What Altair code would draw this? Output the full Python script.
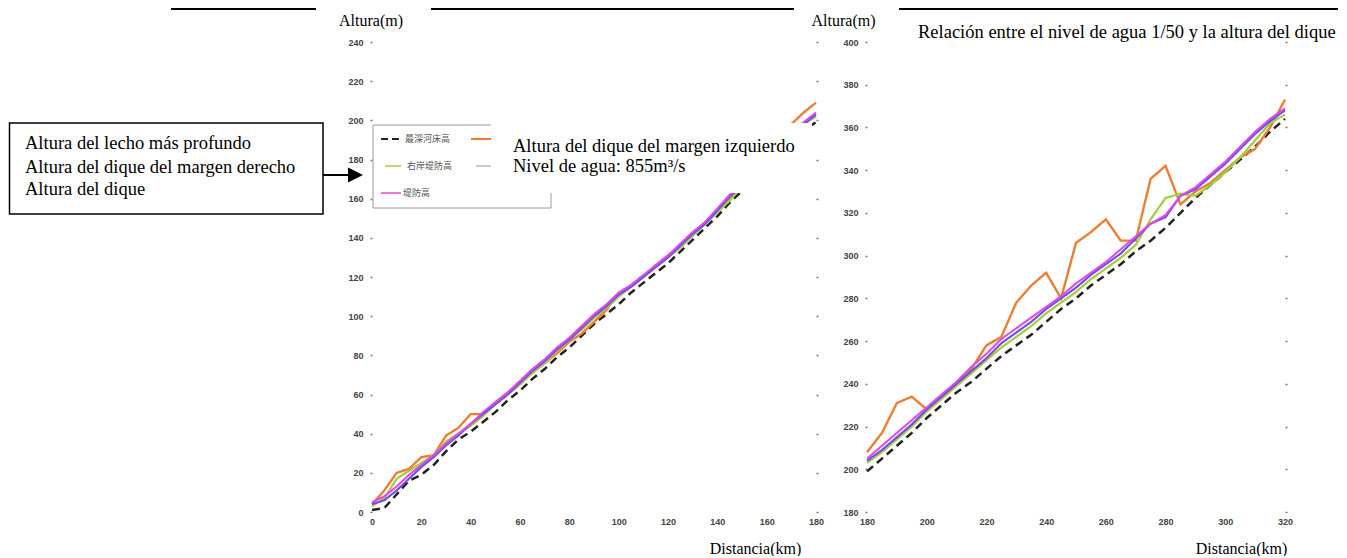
import altair as alt
import pandas as pd

# ---------------- data ----------------
SERIES = [
    "最深河床高",
    "左岸堤防高",
    "右岸堤防高",
    "計画高水位",
    "堤防高",
]
COLORS = ["#222222", "#ED7D31", "#A4CF3A", "#6B4DF0", "#E048E6"]
DASHES = [[8, 5], [1, 0], [1, 0], [1, 0], [1, 0]]
WIDTHS = [2.5, 2, 2, 2, 2]

KM_LEFT = [0, 5, 10, 15, 20, 25, 30, 35, 40, 45, 50, 55, 60, 65, 70, 75, 80, 85,
           90, 95, 100, 105, 110, 115, 120, 125, 130, 135, 140, 145, 150, 155,
           160, 165, 170, 175, 180]
LEFT_LECHO = [1, 2, 9, 16, 19, 24, 31, 37, 41, 46, 51, 57, 62, 68, 73, 79, 84, 90,
              96, 101, 106, 112, 117, 122, 127, 133, 139, 145, 151, 158, 164, 170,
              177, 184, 190, 195, 199]
LEFT_IZQ = [4, 11, 20, 22, 28, 29, 39, 43, 50, 50, 56, 61, 66, 71, 76, 81, 87, 91,
            97, 103, 112, 115, 120, 126, 131, 136, 142, 148, 154, 160, 167, 174,
            181, 189, 198, 204, 209]
LEFT_DER = [3, 7, 17, 21, 25, 29, 36, 40, 44, 49, 55, 60, 65, 71, 76, 82, 88, 93,
            99, 104, 110, 115, 120, 125, 130, 135, 141, 147, 153, 159, 166, 172,
            179, 186, 193, 198, 202]
LEFT_AGUA = [4, 6, 11, 17, 23, 28, 34, 39, 45, 50, 55, 60, 66, 72, 77, 83, 88, 94,
             100, 105, 111, 115, 120, 125, 130, 136, 142, 147, 154, 161, 167, 174,
             180, 186, 193, 198, 203]
LEFT_DIQUE = [5, 8, 13, 19, 24, 29, 35, 40, 45, 51, 56, 61, 67, 73, 78, 84, 89, 95,
              101, 106, 112, 116, 121, 126, 131, 137, 143, 148, 155, 162, 168, 175,
              181, 187, 194, 199, 204]

KM_RIGHT = [180, 185, 190, 195, 200, 205, 210, 215, 220, 225, 230, 235, 240, 245,
            250, 255, 260, 265, 270, 275, 280, 285, 290, 295, 300, 305, 310, 315, 320]
RIGHT_LECHO = [199, 205, 211, 217, 224, 230, 236, 241, 247, 253, 258, 263, 269, 275,
               280, 286, 291, 296, 302, 307, 313, 320, 327, 333, 339, 345, 351, 358, 364]
RIGHT_IZQ = [208, 217, 231, 234, 228, 234, 240, 247, 258, 262, 278, 286, 292, 280,
             306, 311, 317, 307, 307, 336, 342, 324, 330, 334, 340, 346, 350, 360, 373]
RIGHT_DER = [203, 208, 214, 220, 227, 233, 239, 245, 251, 257, 262, 267, 273, 278,
             283, 289, 294, 299, 305, 317, 327, 329, 328, 333, 339, 346, 354, 362, 366]
RIGHT_AGUA = [204, 209, 215, 221, 228, 234, 240, 246, 252, 259, 264, 269, 275, 280,
              285, 291, 296, 301, 308, 315, 318, 328, 331, 337, 343, 350, 357, 363, 368]
RIGHT_DIQUE = [205, 211, 217, 223, 229, 235, 241, 248, 254, 261, 266, 271, 276, 281,
               287, 292, 297, 303, 309, 315, 319, 328, 332, 338, 344, 351, 358, 364, 369]

LEFT_XTICKS = [0, 20, 40, 60, 80, 100, 120, 140, 160, 180]
LEFT_YTICKS = [0, 20, 40, 60, 80, 100, 120, 140, 160, 180, 200, 220, 240]
RIGHT_XTICKS = [180, 200, 220, 240, 260, 280, 300, 320]
RIGHT_YTICKS = [180, 200, 220, 240, 260, 280, 300, 320, 340, 360, 380, 400]

BOX_LINES = ["Altura del lecho más profundo",
             "Altura del dique del margen derecho",
             "Altura del dique"]
NOTE_LINES = ["Altura del dique del margen izquierdo",
              "Nivel de agua: 855m³/s"]
RIGHT_TITLE = "Relación entre el nivel de agua 1/50 y la altura del dique"
Y_TITLE = "Altura(m)"
X_TITLE = "Distancia(km)"


def long_df(km, cols):
    rows = []
    for name, vals in zip(SERIES, cols):
        for k, v in zip(km, vals):
            rows.append({"km": k, "alt": v, "serie": name})
    return pd.DataFrame(rows)


df_left = long_df(KM_LEFT, [LEFT_LECHO, LEFT_IZQ, LEFT_DER, LEFT_AGUA, LEFT_DIQUE])
df_right = long_df(KM_RIGHT, [RIGHT_LECHO, RIGHT_IZQ, RIGHT_DER, RIGHT_AGUA, RIGHT_DIQUE])

SERIF = "Liberation Serif"
SANS = "Liberation Sans"
CJK = "Noto Sans CJK JP"
ONE = pd.DataFrame({"k": [0]})


def hline(x1, x2, y, color="black", width=2, dash=None):
    kw = dict(color=color, strokeWidth=width)
    if dash:
        kw["strokeDash"] = dash
    return alt.Chart(ONE).mark_rule(**kw).encode(
        x=alt.value(x1), x2=alt.value(x2), y=alt.value(y))


def box(x1, y1, x2, y2, fill="white", stroke=None, sw=1):
    kw = dict(fill=fill, opacity=1)
    if stroke:
        kw["stroke"] = stroke
        kw["strokeWidth"] = sw
    return alt.Chart(ONE).mark_rect(**kw).encode(
        x=alt.value(x1), x2=alt.value(x2), y=alt.value(y1), y2=alt.value(y2))


def label(txt, x, y, size=18.5, font=SERIF, color="black", align="left",
          baseline="alphabetic"):
    return alt.Chart(ONE).mark_text(
        text=txt, align=align, baseline=baseline, font=font, fontSize=size,
        color=color).encode(x=alt.value(x), y=alt.value(y))


def panel(df, xdom, ydom, xticks, yticks, ytitle_x, xtitle_x):
    x = alt.X("km:Q", scale=alt.Scale(domain=xdom, nice=False, zero=False),
              axis=alt.Axis(values=xticks, title=X_TITLE, ticks=False, domain=False,
                            grid=False, labelPadding=5, labelFont=SANS,
                            labelFontSize=9, labelFontWeight="bold",
                            labelColor="#444", labelFlush=False, labelOverlap=False,
                            titleX=xtitle_x, titleY=28, titleAlign="center",
                            titleBaseline="top", titleFont=SERIF, titleFontSize=16,
                            titleFontWeight="normal", titleColor="black"))
    y = alt.Y("alt:Q", scale=alt.Scale(domain=ydom, nice=False, zero=False),
              axis=alt.Axis(values=yticks, title=Y_TITLE, titleAngle=0,
                            titleX=ytitle_x, titleY=-22, titleAlign="center",
                            titleBaseline="middle", titleFont=SERIF,
                            titleFontSize=16, titleFontWeight="normal",
                            titleColor="black", ticks=True, tickSize=2,
                            tickWidth=1.5, tickColor="#777", domain=False,
                            grid=False, labelPadding=7, labelFont=SANS,
                            labelFontSize=9, labelFontWeight="bold",
                            labelColor="#444", labelFlush=False,
                            labelOverlap=False))
    y_mirror = alt.Y("alt:Q", scale=alt.Scale(domain=ydom, nice=False, zero=False),
                     axis=alt.Axis(orient="right", values=yticks, labels=False,
                                   title=None, ticks=True, tickSize=2,
                                   tickWidth=1.5, tickColor="#777", domain=False,
                                   grid=False))
    lines = alt.Chart(df).mark_line().encode(
        x=x, y=y,
        color=alt.Color("serie:N", scale=alt.Scale(domain=SERIES, range=COLORS),
                        legend=None),
        strokeDash=alt.StrokeDash("serie:N",
                                  scale=alt.Scale(domain=SERIES, range=DASHES),
                                  legend=None),
        strokeWidth=alt.StrokeWidth("serie:N",
                                    scale=alt.Scale(domain=SERIES, range=WIDTHS),
                                    legend=None),
    )
    mirror = alt.Chart(df).mark_line(opacity=0).encode(x=x, y=y_mirror, detail="serie:N")
    return lines, mirror


# ---------------- left panel ----------------
lines_l, mirror_l = panel(df_left, [0, 180], [0, 240], LEFT_XTICKS, LEFT_YTICKS,
                          -1.5, 383)

left_layers = [
    lines_l, mirror_l,
    # legend (partly covered)
    box(1, 83, 179, 166, fill="white", stroke="#9a9a9a", sw=1),
    hline(9, 31, 97, color="#222", width=2, dash=[7, 4]),
    label(SERIES[0], 33, 97, size=9, font=CJK, color="#555", baseline="middle"),
    hline(99, 121, 97, color=COLORS[1], width=2),
    hline(13, 29, 124, color=COLORS[2], width=1.5),
    label(SERIES[2], 35, 124, size=9, font=CJK, color="#555", baseline="middle"),
    hline(104, 121, 124, color="#b8b8c4", width=1.5),
    hline(9, 29, 151, color=COLORS[4], width=1.5),
    label(SERIES[4], 31, 151, size=9, font=CJK, color="#555", baseline="middle"),
    # white note box covering lines
    box(119, 81, 440, 151, fill="white"),
    label(NOTE_LINES[0], 141, 110),
    label(NOTE_LINES[1], 141, 130),
    # left annotation box with arrow
    box(-362.5, 81, -49, 172, fill="white", stroke="black", sw=1.5),
    label(BOX_LINES[0], -347, 107),
    label(BOX_LINES[1], -347, 130.5),
    label(BOX_LINES[2], -347, 153),
    hline(-49, -22, 133, color="black", width=2),
    alt.Chart(ONE).mark_point(shape="M -1 -1 L 1 0 L -1 1 Z", size=225,
                              filled=True, color="black", opacity=1).encode(
        x=alt.value(-16.5), y=alt.value(133)),
    # top rules
    hline(-201, -56, -33, width=2),
    hline(59, 422, -33, width=2),
]
left = alt.layer(*left_layers).resolve_axis(y="independent").properties(
    width=444, height=470)

# ---------------- right panel ----------------
lines_r, mirror_r = panel(df_right, [180, 320], [180, 400], RIGHT_XTICKS,
                          RIGHT_YTICKS, -24, 374)
right_layers = [
    lines_r, mirror_r,
    hline(32, 471, -33, width=2),
    label(RIGHT_TITLE, 51, -4),
]
right = alt.layer(*right_layers).resolve_axis(y="independent").properties(
    width=418, height=470)

chart = alt.HConcatChart(hconcat=[left, right], spacing=51, bounds="flush",
                         padding=0).configure(
    background="white", view=alt.ViewConfig(stroke=None))

chart.save("out.html", embed_options={"renderer": "svg", "actions": False})
